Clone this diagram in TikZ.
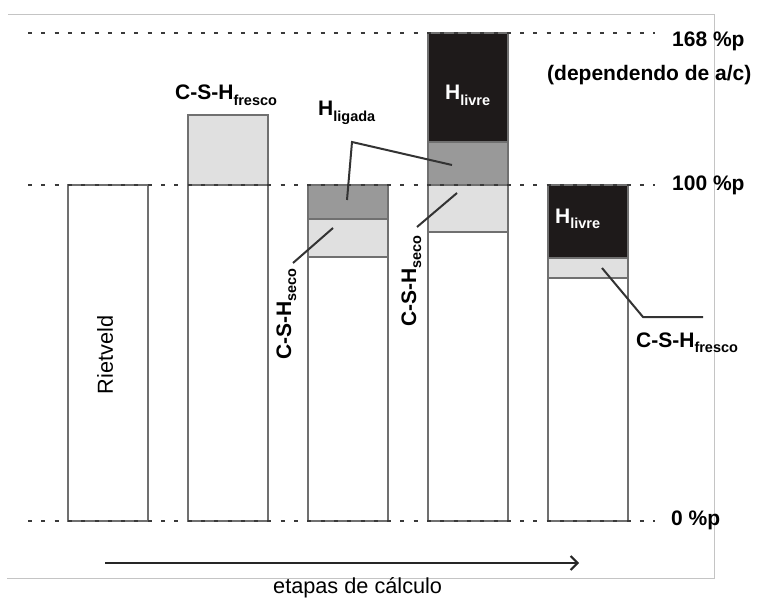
\documentclass[tikz,border=0pt]{standalone}
\usepackage{fontspec}
\setmainfont{Liberation Sans}
\usetikzlibrary{arrows.meta}

\definecolor{seglight}{HTML}{E0E0E0}
\definecolor{segmid}{HTML}{999999}
\definecolor{segdark}{HTML}{1E1A1A}
\definecolor{segedge}{HTML}{707070}
\definecolor{framegray}{HTML}{C4C4C4}
\definecolor{leadergray}{HTML}{333333}
\definecolor{levelgray}{HTML}{3A3A3A}

% label with a lowered, smaller subscript
\newcommand\sublbl[2]{#1\raisebox{-0.24em}{\fontsize{14.5}{15}\selectfont #2}}

\begin{document}
\begin{tikzpicture}[x=1pt,y=-1pt,
  seg/.style={draw=segedge,line width=1.4pt},
  level/.style={draw=levelgray,line width=2.4pt,dash pattern=on 4pt off 9.3pt},
  leader/.style={draw=leadergray,line width=2pt},
  framerule/.style={draw=framegray,line width=1pt},
  lbl/.style={font=\fontsize{21}{24}\selectfont\bfseries,inner sep=0pt,anchor=base west},
  plain/.style={font=\fontsize{21.7}{24}\selectfont,inner sep=0pt}]

\useasboundingbox (0,0) rectangle (761,599);

% frame
\draw[framerule] (8,15) -- (714,15) -- (714,578) -- (7,578);

% bar 1
\draw[seg,fill=white] (68,185) rectangle (148,521);
% bar 2
\draw[seg,fill=white] (188,185) rectangle (268,521);
\draw[seg,fill=seglight] (188,115) rectangle (268,185);
% bar 3
\draw[seg,fill=white] (308,257) rectangle (388,521);
\draw[seg,fill=seglight] (308,219) rectangle (388,257);
\draw[seg,fill=segmid] (308,185) rectangle (388,219);
% bar 4
\draw[seg,fill=white] (428,232) rectangle (508,521);
\draw[seg,fill=seglight] (428,185) rectangle (508,232);
\draw[seg,fill=segmid] (428,142) rectangle (508,185);
\draw[seg,fill=segdark] (428,33) rectangle (508,142);
% bar 5
\draw[seg,fill=white] (548,278) rectangle (628,521);
\draw[seg,fill=seglight] (548,258) rectangle (628,278);
\draw[seg,fill=segdark] (548,185) rectangle (628,258);

% reference levels
\coordinate (top168w) at (28,33);  \coordinate (top168e) at (655,33);
\coordinate (mid100w) at (28,185); \coordinate (mid100e) at (655,185);
\coordinate (zero0w) at (28,521);  \coordinate (zero0e) at (655,521);
\draw[level] (top168w) -- (top168e);
\draw[level] (mid100w) -- (mid100e);
\draw[level] (zero0w) -- (zero0e);

% level labels
\node[lbl] (p168) at (672,47) {168 \%p};
\node[lbl] (pdep) at (547,81) {(dependendo de a/c)};
\node[lbl] (p100) at (672,190) {100 \%p};
\node[lbl] (p0) at (671,525) {0 \%p};

% bar labels
\node[plain,rotate=90] (riet) at (105,355) {Rietveld};
\node[lbl] (freshtop) at (175,100) {\sublbl{C-S-H}{fresco}};
\node[lbl] (bound) at (318,116) {\sublbl{H}{ligada}};
\node[lbl,text=white] (free4) at (445,100) {\sublbl{H}{livre}};
\node[lbl,text=white] (free5) at (555,223) {\sublbl{H}{livre}};
\node[lbl,rotate=90] (dry3) at (291,360) {\sublbl{C-S-H}{seco}};
\node[lbl,rotate=90] (dry4) at (416,327) {\sublbl{C-S-H}{seco}};
\node[lbl] (fresh5) at (636,347) {\sublbl{C-S-H}{fresco}};

% leader lines
\coordinate (dry3a) at (293,263); \coordinate (dry3b) at (333,228);
\coordinate (dry4a) at (417,227); \coordinate (dry4b) at (457,193);
\coordinate (bnd3) at (347,200); \coordinate (bndk) at (352,142); \coordinate (bnd4) at (452,165);
\coordinate (fr5a) at (602,268); \coordinate (fr5k) at (643,317); \coordinate (fr5b) at (703,317);
\draw[leader] (dry3a) -- (dry3b);
\draw[leader] (dry4a) -- (dry4b);
\draw[leader] (bnd3) -- (bndk) -- (bnd4);
\draw[leader] (fr5a) -- (fr5k) -- (fr5b);

% calculation steps arrow
\coordinate (arrS) at (105,563); \coordinate (arrE) at (579,563);
\draw[draw=black!85,line width=2.2pt,-{Straight Barb[length=7pt,width=14pt,line width=2pt]}] (arrS) -- (arrE);
\node[plain,anchor=base west] (steps) at (273,593) {etapas de cálculo};

\end{tikzpicture}
\end{document}
